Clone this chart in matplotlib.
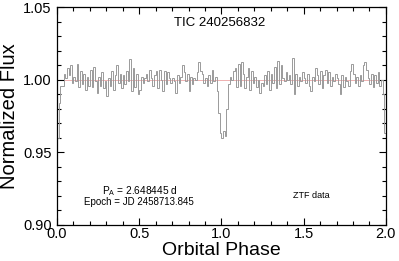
import matplotlib
matplotlib.use('Agg')
import matplotlib.pyplot as plt
import numpy as np
from matplotlib.ticker import MultipleLocator, FormatStrFormatter

# plot settings
plt.rcParams['font.family'] = 'Liberation Sans'
plt.rcParams['mathtext.fontset'] = 'custom'
plt.rcParams['mathtext.rm'] = 'Liberation Sans'

### data: binned, phase-folded light curve (bin width 0.01 in phase) ###
bin_width = 0.01
flux_cycle1 = [
    0.960, 0.984, 0.996, 0.996, 1.004, 1.001, 1.008, 1.003, 1.010, 0.998,
    1.002, 0.999, 1.011, 0.995, 1.006, 0.997, 1.004, 0.993, 1.002, 0.996,
    1.007, 0.995, 1.009, 0.999, 0.991, 1.002, 0.996, 1.005, 0.994, 0.999,
    0.989, 1.001, 0.996, 1.006, 0.993, 1.003, 1.010, 0.998, 1.004, 0.994,
    1.003, 0.997, 1.006, 0.999, 1.014, 0.992, 1.008, 0.995, 1.004, 0.990,
    0.993, 1.002, 0.998, 1.001, 1.004, 0.999, 1.007, 1.001, 0.996, 1.003,
    1.006, 0.994, 1.007, 1.000, 0.992, 1.006, 0.997, 1.005, 1.001, 0.998,
    1.001, 0.999, 0.991, 1.003, 0.998, 1.002, 1.010, 1.005, 0.999, 1.004,
    0.992, 1.002, 0.997, 1.001, 1.000, 1.005, 1.012, 1.006, 1.004, 0.998,
    1.001, 0.996, 1.003, 0.998, 1.007, 0.999, 1.002, 0.992, 0.977, 0.963,
]
flux_cycle2 = [
    0.960, 0.965, 0.961, 0.980, 0.997, 1.002, 1.000, 1.006, 1.008, 0.995,
    1.011, 0.996, 1.012, 1.004, 0.994, 1.002, 1.008, 0.993, 1.006, 0.998,
    1.002, 0.995, 1.000, 0.991, 0.998, 0.996, 1.003, 0.997, 1.006, 0.993,
    1.004, 0.998, 1.009, 0.994, 1.013, 0.997, 1.010, 1.001, 0.999, 1.005,
    1.000, 1.003, 0.997, 1.015, 0.990, 1.004, 0.996, 1.002, 0.999, 1.005,
    1.001, 0.998, 1.004, 0.996, 0.992, 1.002, 0.999, 1.008, 1.003, 0.997,
    1.006, 0.994, 1.003, 1.007, 0.998, 1.005, 0.996, 1.002, 0.999, 1.004,
    1.001, 0.997, 0.990, 1.003, 0.995, 1.002, 0.999, 0.996, 1.006, 1.011,
    1.004, 0.998, 1.002, 0.996, 1.003, 0.999, 1.010, 1.012, 1.007, 1.001,
    0.997, 1.004, 0.995, 1.003, 0.998, 1.005, 0.996, 1.000, 0.990, 0.963,
]
flux = np.array(flux_cycle1 + flux_cycle2)
edges = np.arange(len(flux) + 1) * bin_width

target = 'TIC 240256832'
period_txt = r'P$_\mathrm{A}$ = 2.648445 d'
epoch_txt = 'Epoch = JD 2458713.845'
source_txt = 'ZTF data'

### figure ###
fig = plt.figure(figsize=(3.99, 2.61), dpi=100)
ax = fig.add_axes([0.143, 0.138, 0.824, 0.835])

ax.axhline(1.0, color='#efb0b0', lw=0.7, zorder=1)
ax.stairs(flux, edges, baseline=None, color='#9a9a9a', lw=0.7, zorder=2)

ax.set_xlim(0, 2.0)
ax.set_ylim(0.90, 1.05)
ax.xaxis.set_major_locator(MultipleLocator(0.5))
ax.xaxis.set_minor_locator(MultipleLocator(0.1))
ax.yaxis.set_major_locator(MultipleLocator(0.05))
ax.yaxis.set_minor_locator(MultipleLocator(0.01))
ax.xaxis.set_major_formatter(FormatStrFormatter('%.1f'))
ax.yaxis.set_major_formatter(FormatStrFormatter('%.2f'))
ax.tick_params(which='both', direction='in', top=True, right=True, width=0.8)
ax.tick_params(which='major', length=5, labelsize=10.5)
ax.tick_params(which='minor', length=3)
ax.tick_params(axis='x', pad=1.5)
ax.tick_params(axis='y', pad=4)
for s in ax.spines.values():
    s.set_linewidth(0.9)

ax.set_xlabel('Orbital Phase', fontsize=14, labelpad=1)
ax.set_ylabel('Normalized Flux', fontsize=14.5, labelpad=3)

ax.text(0.99, 1.039, target, ha='center', va='center', fontsize=9.5)
ax.text(0.5, 0.9235, period_txt, ha='center', va='center', fontsize=7.3)
ax.text(0.5, 0.9155, epoch_txt, ha='center', va='center', fontsize=7)
ax.text(1.545, 0.9206, source_txt, ha='center', va='center', fontsize=6.5)

fig.savefig('out.png', dpi=100)
